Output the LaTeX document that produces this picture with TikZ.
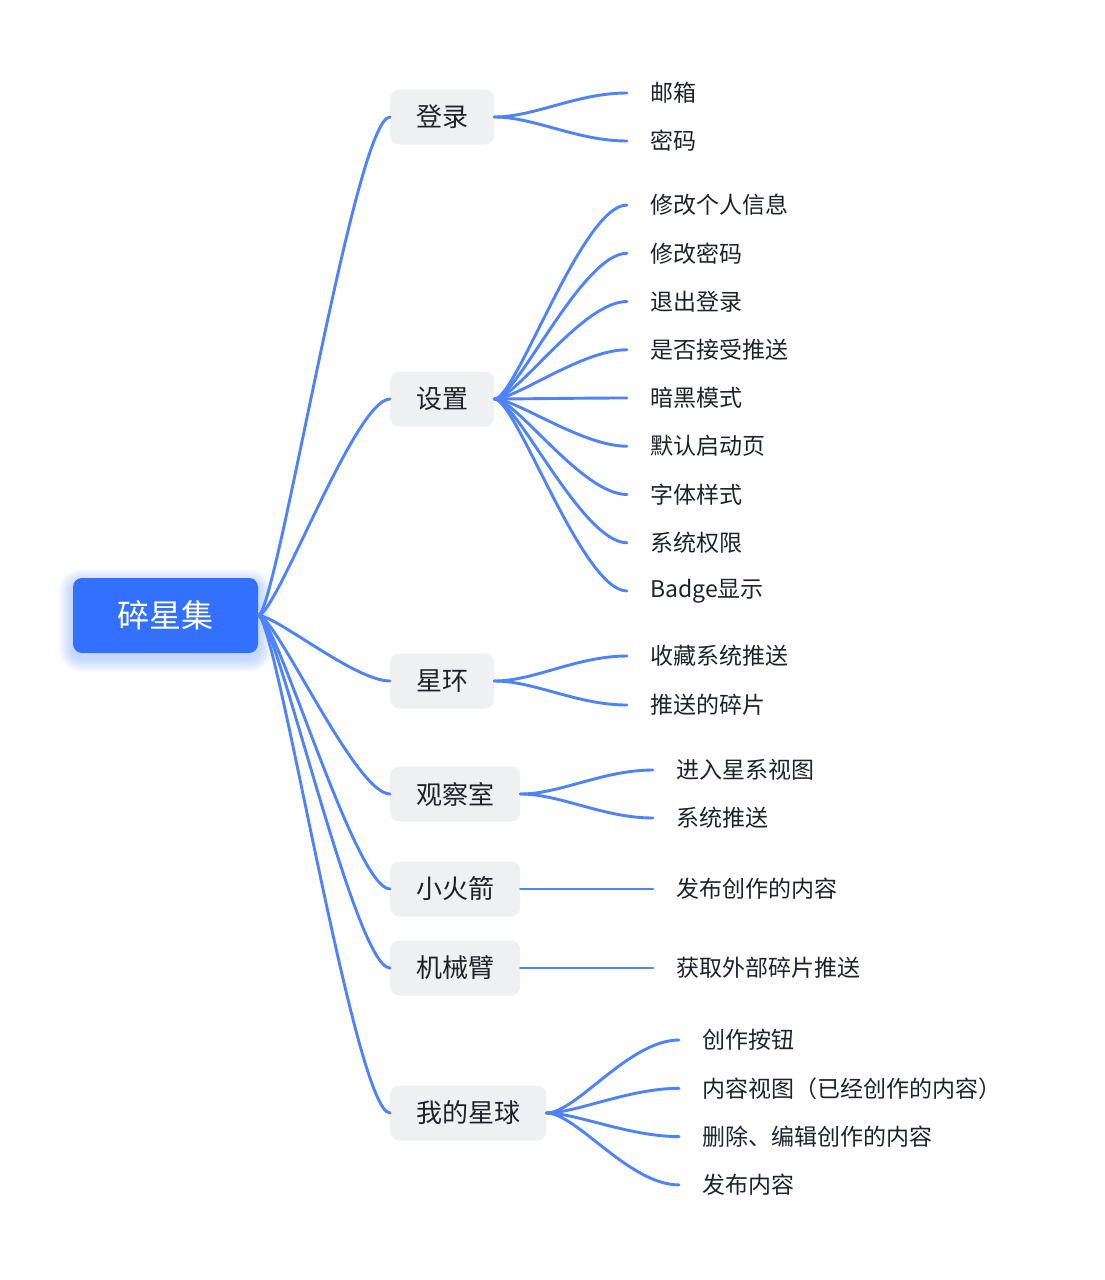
\documentclass[tikz,border=0pt]{standalone}
\usepackage{fontspec}
\setmainfont{Noto Sans CJK SC}
\usetikzlibrary{calc, backgrounds}
\definecolor{rootblue}{HTML}{3370FF}
\definecolor{linkblue}{HTML}{4E83FD}
\definecolor{topicgray}{HTML}{EFF0F2}
\definecolor{inkdark}{HTML}{1F2329}

\begin{document}
\begin{tikzpicture}[x=1pt, y=-1pt,
  link/.style={draw=linkblue, line width=2.9pt, line cap=round},
  rootbox/.style={fill=rootblue, rounded corners=9pt, minimum width=185pt,
    minimum height=75pt, text=white, font=\fontsize{32}{36}\selectfont},
  topic/.style={fill=topicgray, rounded corners=9pt, anchor=west,
    minimum height=55pt, inner xsep=26pt, text=inkdark,
    font=\fontsize{26}{30}\selectfont},
  leaf/.style={anchor=west, inner xsep=23pt, inner ysep=2pt, text=inkdark,
    font=\fontsize{23}{27}\selectfont},
]
  \useasboundingbox (0,0) rectangle (1104,1280);
  \node[rootbox] (root) at (165.5,615.5) {碎星集};
  % 发光阴影
  \begin{scope}[on background layer]
    \foreach \r in {1,...,14}
      \fill[rootblue, opacity=0.025, rounded corners=9pt+\r]
        ($(root.north west)+(-\r,-\r+5)$) rectangle ($(root.south east)+(\r,\r+5)$);
  \end{scope}

  \node[topic] (login)    at (390,117)  {登录};
  \node[topic] (settings) at (390,399)  {设置};
  \node[topic] (ring)     at (390,681)  {星环};
  \node[topic] (observe)  at (390,794)  {观察室};
  \node[topic] (rocket)   at (390,889)  {小火箭};
  \node[topic] (arm)      at (390,968)  {机械臂};
  \node[topic] (planet)   at (390,1113) {我的星球};
  \foreach \b in {login,settings,ring,observe,rocket,arm,planet}
    \draw[link] (root.east) .. controls +(18,0) and +(-35,0) .. (\b.west);

  % 登录
  \node[leaf] (l1) at (627,93)  {邮箱};
  \node[leaf] (l2) at (627,141) {密码};
  \foreach \i in {1,2}
    \draw[link] (login.east) .. controls +(40,0) and +(-50,0) .. (l\i.west);

  % 设置
  \foreach \txt [count=\i] in {修改个人信息,修改密码,退出登录,是否接受推送,暗黑模式,
      默认启动页,字体样式,系统权限,Badge显示} {
    \node[leaf] (s\i) at (627,{205+48.25*(\i-1)}) {\txt};
    \draw[link] (settings.east) .. controls +(22,0) and +(-45,0) .. (s\i.west);
  }

  % 星环
  \node[leaf] (r1) at (627,656) {收藏系统推送};
  \node[leaf] (r2) at (627,705) {推送的碎片};
  \foreach \i in {1,2}
    \draw[link] (ring.east) .. controls +(40,0) and +(-50,0) .. (r\i.west);

  % 观察室
  \node[leaf] (o1) at (653,770) {进入星系视图};
  \node[leaf] (o2) at (653,818) {系统推送};
  \foreach \i in {1,2}
    \draw[link] (observe.east) .. controls +(40,0) and +(-50,0) .. (o\i.west);

  % 小火箭、机械臂
  \node[leaf] (k1) at (653,889) {发布创作的内容};
  \node[leaf] (m1) at (653,968) {获取外部碎片推送};
  \draw[link] (rocket.east) -- (k1.west);
  \draw[link] (arm.east) -- (m1.west);

  % 我的星球
  \foreach \txt [count=\i] in {创作按钮,内容视图（已经创作的内容）,删除、编辑创作的内容,发布内容} {
    \node[leaf] (p\i) at (679,{1040+48.3*(\i-1)}) {\txt};
    \draw[link] (planet.east) .. controls +(30,0) and +(-50,0) .. (p\i.west);
  }
\end{tikzpicture}
\end{document}
